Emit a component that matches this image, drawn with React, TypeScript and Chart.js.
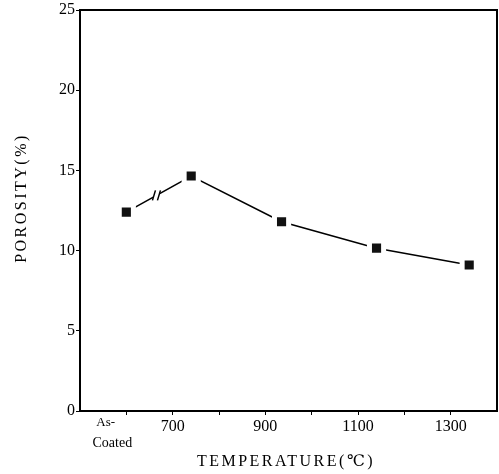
import React, { useEffect, useRef } from "react";
import { Chart, registerables } from "chart.js";

Chart.register(...registerables);

const temperatures = [600, 740, 935, 1140, 1340];
const porosity = [12.4, 14.65, 11.8, 10.15, 9.1];
const xTickValues = [600, 700, 800, 900, 1000, 1100, 1200, 1300];
const xTickLabels: Record<number, string> = {
  700: "700",
  900: "900",
  1100: "1100",
  1300: "1300",
};
const asCoatedLabel = ["As-", "Coated"];
const yTicks = [0, 5, 10, 15, 20, 25];
const xTitle = "TEMPERATURE(\u2103)";
const yTitle = "POROSITY(%)";

const FONT = "'Liberation Serif', 'DejaVu Serif', serif";

const decorPlugin = {
  id: "decor",
  afterDatasetsDraw(chart: any) {
    const xs = chart.scales.x;
    const ys = chart.scales.y;
    const ctx = chart.ctx;
    const ca = chart.chartArea;
    // frame top/right
    ctx.save();
    ctx.strokeStyle = "#000";
    ctx.lineWidth = 2;
    ctx.beginPath();
    ctx.moveTo(ca.left, ca.top);
    ctx.lineTo(ca.right, ca.top);
    ctx.lineTo(ca.right, ca.bottom);
    ctx.stroke();
    // break mark on first segment
    const bx = 665;
    const t = (bx - temperatures[0]) / (temperatures[1] - temperatures[0]);
    const by = porosity[0] + t * (porosity[1] - porosity[0]);
    const px = xs.getPixelForValue(bx);
    const py = ys.getPixelForValue(by);
    ctx.fillStyle = "#fff";
    ctx.fillRect(px - 3, py - 6, 6, 12);
    ctx.lineWidth = 1.5;
    ctx.beginPath();
    ctx.moveTo(px - 4, py + 5);
    ctx.lineTo(px - 1, py - 5);
    ctx.moveTo(px + 1, py + 5);
    ctx.lineTo(px + 4, py - 5);
    ctx.stroke();
    ctx.restore();
  },
  afterDraw(chart: any) {
    const xs = chart.scales.x;
    const ca = chart.chartArea;
    const ctx = chart.ctx;
    ctx.save();
    ctx.fillStyle = "#000";
    ctx.textBaseline = "middle";
    const ax = xs.getPixelForValue(600);
    ctx.font = `13px ${FONT}`;
    ctx.textAlign = "left";
    ctx.fillText(asCoatedLabel[0], ax - 30, ca.bottom + 12);
    ctx.font = `14px ${FONT}`;
    ctx.textAlign = "center";
    ctx.fillText(asCoatedLabel[1], ax - 14, ca.bottom + 32);
    (ctx as any).letterSpacing = "2.5px";
    ctx.font = `16px ${FONT}`;
    ctx.textAlign = "center";
    ctx.fillText(xTitle, 286, 462);
    ctx.translate(22, 198);
    ctx.rotate(-Math.PI / 2);
    ctx.fillText(yTitle, 0, 0);
    ctx.restore();
  },
};

export default function App() {
  const ref = useRef<HTMLCanvasElement>(null);
  useEffect(() => {
    document.body.style.margin = "0";
    const chart = new Chart(ref.current!, {
      type: "scatter",
      data: {
        datasets: [
          {
            data: temperatures.map((t, i) => ({ x: t, y: porosity[i] })),
            showLine: true,
            borderColor: "#000",
            borderWidth: 1.5,
            backgroundColor: "#111",
            pointStyle: "rect",
            pointRadius: 10,
            pointBorderColor: "#fff",
            pointBorderWidth: 5,
          },
        ],
      },
      plugins: [decorPlugin],
      options: {
        animation: false,
        responsive: false,
        layout: { autoPadding: false, padding: { top: 10, right: 2, left: 0, bottom: 0 } },
        plugins: { legend: { display: false }, tooltip: { enabled: false } },
        scales: {
          x: {
            type: "linear",
            min: 500,
            max: 1400,
            afterBuildTicks(scale: any) {
              scale.ticks = xTickValues.map((v) => ({ value: v }));
            },
            afterFit(scale: any) {
              scale.height = 474 - 411;
              scale.paddingLeft = 0;
              scale.paddingRight = 0;
            },
            border: { display: true, color: "#000", width: 2 },
            grid: { drawOnChartArea: false, tickLength: 4, color: "#000", lineWidth: 1 },
            ticks: {
              autoSkip: false,
              maxRotation: 0,
              color: "#000",
              padding: 2,
              font: { family: FONT, size: 16 },
              callback: (v: any) => xTickLabels[v as number] ?? "",
            },
          },
          y: {
            min: 0,
            max: 25,
            afterBuildTicks(scale: any) {
              scale.ticks = yTicks.map((v) => ({ value: v }));
            },
            afterFit(scale: any) {
              scale.width = 80;
              scale.paddingTop = 0;
              scale.paddingBottom = 0;
            },
            border: { display: true, color: "#000", width: 2 },
            grid: { drawOnChartArea: false, tickLength: 4, color: "#000" },
            ticks: {
              color: "#000",
              padding: 1,
              font: { family: FONT, size: 16 },
            },
          },
        },
      } as any,
    });
    return () => chart.destroy();
  }, []);
  return (
    <div style={{ position: "fixed", left: 0, top: 0, width: 499, height: 474, background: "#fff" }}>
      <canvas ref={ref} width={499} height={474} style={{ width: 499, height: 474 }} />
    </div>
  );
}
